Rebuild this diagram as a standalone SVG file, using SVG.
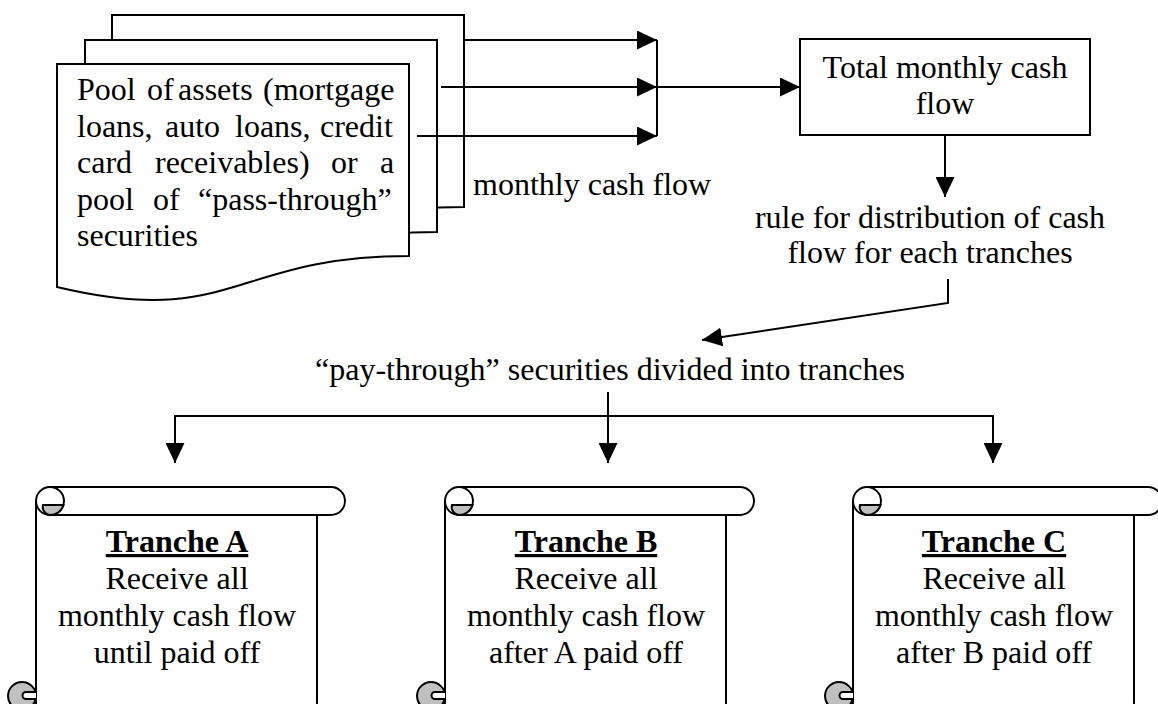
<svg xmlns="http://www.w3.org/2000/svg" xmlns:xlink="http://www.w3.org/1999/xlink" width="1158" height="704" viewBox="0 0 1158 704">
<style>
text{font-family:"Liberation Serif","Times New Roman",serif;font-size:32px;fill:#000}
.b{font-weight:bold;text-decoration:underline}
.mid{text-anchor:middle}
.shape{fill:#fff;stroke:#000;stroke-width:2}
.gray{fill:#c0c0c0;stroke:#000;stroke-width:2}
.line{fill:none;stroke:#000;stroke-width:2}
.arr{fill:none;stroke:#000;stroke-width:2;marker-end:url(#ah)}
</style>
<defs>
<marker id="ah" markerUnits="userSpaceOnUse" markerWidth="20" markerHeight="19" refX="20" refY="9.5" orient="auto">
<path d="M0,0 L20,9.5 L0,19 Z" fill="#000"/>
</marker>
<path id="doc" d="M0,0 H352 V192 C176,192 176,265 0,223 Z"/>
<g id="scroll">
<path class="shape" d="M36,501 V716 H303 A14,14 0 0 0 317,702 V515"/>
<path class="shape" d="M50,487 H331 A14,14 0 0 1 331,515 H50 Z"/>
<circle class="shape" cx="50" cy="501" r="14"/>
<path class="gray" d="M43,505 H63.4 A14,14 0 0 1 50,515 A8,8 0 0 1 43,505 Z"/>
<circle class="gray" cx="22" cy="696" r="14"/>
<path class="shape" d="M36,692 H26 A3.5,3.5 0 0 0 26,699 H36"/>
</g>
</defs>

<g id="pool">
<use href="#doc" class="shape" x="112" y="15"/>
<use href="#doc" class="shape" x="85" y="40"/>
<use href="#doc" class="shape" x="57" y="64"/>
<text x="77" y="100"><tspan x="77">Pool</tspan><tspan x="147">of</tspan><tspan x="178">assets</tspan><tspan x="263">(mortgage</tspan></text>
<text x="77" y="136.5"><tspan x="77">loans,</tspan><tspan x="165">auto</tspan><tspan x="235">loans,</tspan><tspan x="320">credit</tspan></text>
<text x="77" y="173"><tspan x="77">card</tspan><tspan x="155">receivables)</tspan><tspan x="331">or</tspan><tspan x="380">a</tspan></text>
<text x="77" y="209.5"><tspan x="77">pool</tspan><tspan x="153">of</tspan><tspan x="198">“pass-through”</tspan></text>
<text x="77" y="246">securities</text>
</g>

<g id="label-monthly">
<text x="473" y="195">monthly cash flow</text>
</g>

<g id="total">
<rect class="shape" x="800" y="39" width="290" height="96"/>
<text class="mid" x="945" y="78">Total monthly cash</text>
<text class="mid" x="945" y="114">flow</text>
</g>

<g id="rule">
<text class="mid" x="930" y="228">rule for distribution of cash</text>
<text class="mid" x="930" y="263">flow for each tranches</text>
</g>

<g id="paythrough">
<text x="315" y="380">“pay-through” securities divided into tranches</text>
</g>

<g id="trancheA">
<use href="#scroll"/>
<text class="mid b" x="177" y="552">Tranche A</text>
<text class="mid" x="177" y="589">Receive all</text>
<text class="mid" x="177" y="626">monthly cash flow</text>
<text class="mid" x="177" y="663">until paid off</text>
</g>
<g id="trancheB">
<use href="#scroll" x="409"/>
<text class="mid b" x="586" y="552">Tranche B</text>
<text class="mid" x="586" y="589">Receive all</text>
<text class="mid" x="586" y="626">monthly cash flow</text>
<text class="mid" x="586" y="663">after A paid off</text>
</g>
<g id="trancheC">
<use href="#scroll" x="817"/>
<text class="mid b" x="994" y="552">Tranche C</text>
<text class="mid" x="994" y="589">Receive all</text>
<text class="mid" x="994" y="626">monthly cash flow</text>
<text class="mid" x="994" y="663">after B paid off</text>
</g>

<g id="connectors">
<line class="arr" x1="464" y1="40" x2="657" y2="40"/>
<line class="arr" x1="441" y1="87" x2="657" y2="87"/>
<line class="arr" x1="417" y1="136" x2="657" y2="136"/>
<line class="line" x1="657" y1="40" x2="657" y2="136"/>
<line class="arr" x1="657" y1="87" x2="800" y2="87"/>
<line class="arr" x1="945" y1="135" x2="945" y2="197"/>
<polyline class="arr" points="948,279 948,303 702,340"/>
<polyline class="line" points="175,463 175,416 993,416 993,463"/>
<line class="arr" x1="175" y1="416" x2="175" y2="463"/>
<line class="arr" x1="993" y1="416" x2="993" y2="463"/>
<line class="arr" x1="608" y1="392" x2="608" y2="463"/>
</g>
</svg>
